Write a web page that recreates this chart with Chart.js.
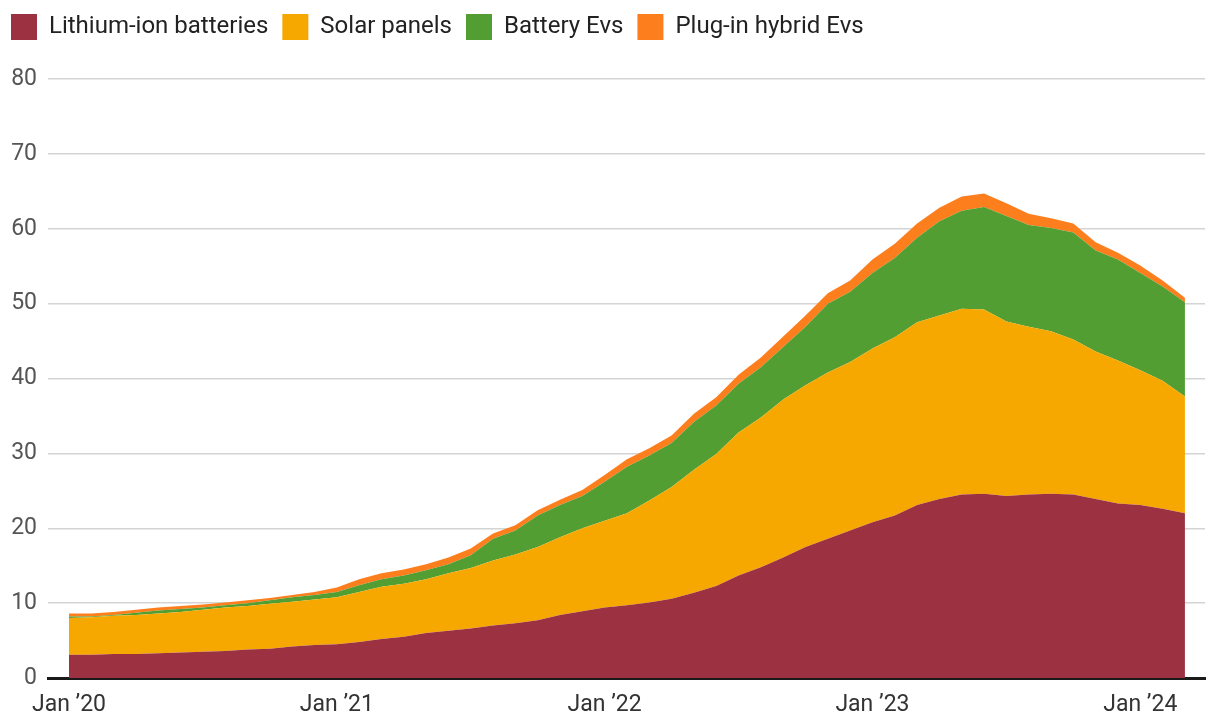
<!DOCTYPE html>
<html lang="en">
<head>
    <meta charset="UTF-8">
    <title>Clean tech exports</title>
    <script src="https://cdn.jsdelivr.net/npm/chart.js"></script>
    <style>
        html, body { margin: 0; padding: 0; background: #fff; }
        .chart-box { width: 1220px; height: 728px; position: relative; }
    </style>
</head>
<body>
    <div class="chart-box">
        <canvas id="areaChart"></canvas>
    </div>

    <script>
        // monthly, Jan 2020 - Mar 2024
        const months = [
            '2020-01','2020-02','2020-03','2020-04','2020-05','2020-06','2020-07','2020-08','2020-09','2020-10','2020-11','2020-12',
            '2021-01','2021-02','2021-03','2021-04','2021-05','2021-06','2021-07','2021-08','2021-09','2021-10','2021-11','2021-12',
            '2022-01','2022-02','2022-03','2022-04','2022-05','2022-06','2022-07','2022-08','2022-09','2022-10','2022-11','2022-12',
            '2023-01','2023-02','2023-03','2023-04','2023-05','2023-06','2023-07','2023-08','2023-09','2023-10','2023-11','2023-12',
            '2024-01','2024-02','2024-03'
        ];

        const lithiumIon = [
            3.1, 3.1, 3.2, 3.2, 3.3, 3.4, 3.5, 3.6, 3.8, 3.9, 4.2, 4.4,
            4.5, 4.8, 5.2, 5.5, 6.0, 6.3, 6.6, 7.0, 7.3, 7.7, 8.4, 8.9,
            9.4, 9.7, 10.1, 10.6, 11.4, 12.3, 13.7, 14.8, 16.1, 17.5, 18.6, 19.7,
            20.8, 21.7, 23.1, 23.9, 24.5, 24.6, 24.3, 24.5, 24.6, 24.5, 23.9, 23.3,
            23.1, 22.6, 22.0
        ];
        const solarPanels = [
            4.9, 5.0, 5.1, 5.2, 5.3, 5.4, 5.6, 5.8, 5.8, 6.0, 6.0, 6.1,
            6.3, 6.7, 7.0, 7.1, 7.2, 7.7, 8.1, 8.7, 9.2, 9.8, 10.4, 11.1,
            11.6, 12.3, 13.6, 14.9, 16.4, 17.6, 19.1, 20.0, 21.1, 21.6, 22.2, 22.5,
            23.2, 23.8, 24.4, 24.5, 24.8, 24.6, 23.3, 22.4, 21.7, 20.7, 19.7, 19.1,
            18.0, 17.1, 15.6
        ];
        const batteryEvs = [
            0.2, 0.1, 0.1, 0.3, 0.4, 0.4, 0.3, 0.3, 0.4, 0.5, 0.6, 0.6,
            0.7, 0.9, 1.0, 1.1, 1.2, 1.2, 1.7, 2.9, 3.2, 4.2, 4.3, 4.3,
            5.2, 6.2, 6.0, 5.9, 6.4, 6.5, 6.5, 6.7, 7.0, 7.8, 9.2, 9.4,
            10.1, 10.6, 11.3, 12.6, 13.1, 13.7, 14.1, 13.6, 13.8, 14.3, 13.5, 13.5,
            13.0, 12.6, 12.6
        ];
        const pluginHybridEvs = [
            0.4, 0.4, 0.4, 0.4, 0.4, 0.4, 0.4, 0.4, 0.4, 0.3, 0.3, 0.4,
            0.6, 0.8, 0.8, 0.8, 0.8, 0.9, 0.9, 0.7, 0.7, 0.7, 0.7, 0.8,
            0.9, 1.0, 1.0, 1.0, 1.1, 1.1, 1.2, 1.3, 1.4, 1.5, 1.4, 1.5,
            1.8, 1.9, 1.9, 1.8, 1.9, 1.8, 1.7, 1.5, 1.3, 1.2, 1.1, 0.9,
            1.0, 0.8, 0.6
        ];

        const xTickMonths = ['2020-01', '2021-01', '2022-01', '2023-01', '2024-01'];
        const xTickLabels = ['Jan \u201920', 'Jan \u201921', 'Jan \u201922', 'Jan \u201923', 'Jan \u201924'];
        const yTicks = [0, 10, 20, 30, 40, 50, 60, 70, 80];

        const toPoints = values => values.map((v, i) => ({ x: i, y: v }));
        const xTickPositions = xTickMonths.map(m => months.indexOf(m));

        const series = [
            { label: 'Lithium-ion batteries', data: lithiumIon, color: '#9c3241' },
            { label: 'Solar panels', data: solarPanels, color: '#f7a800' },
            { label: 'Battery Evs', data: batteryEvs, color: '#529e32' },
            { label: 'Plug-in hybrid Evs', data: pluginHybridEvs, color: '#fd7e1d' }
        ];

        // extra room between legend and plot
        const legendGap = {
            id: 'legendGap',
            beforeInit(chart) {
                const fit = chart.legend.fit;
                chart.legend.fit = function () {
                    fit.bind(chart.legend)();
                    this.height += 29;
                };
            }
        };

        const ctx = document.getElementById('areaChart').getContext('2d');
        new Chart(ctx, {
            type: 'line',
            data: {
                datasets: series.map((s, i) => ({
                    label: s.label,
                    data: toPoints(s.data),
                    backgroundColor: s.color,
                    borderColor: s.color,
                    borderWidth: 0,
                    pointRadius: 0,
                    tension: 0,
                    fill: i === 0 ? 'origin' : '-1'
                }))
            },
            options: {
                responsive: true,
                maintainAspectRatio: false,
                animation: false,
                layout: { padding: { top: 0, right: 15, bottom: 0, left: -3 } },
                plugins: {
                    legend: {
                        position: 'top',
                        align: 'start',
                        labels: {
                            boxWidth: 26,
                            boxHeight: 26,
                            padding: 14,
                            color: '#222',
                            font: { family: 'Roboto', size: 24 }
                        }
                    },
                    tooltip: { enabled: false }
                },
                scales: {
                    x: {
                        type: 'linear',
                        min: -0.94,
                        max: 50.9,
                        grid: { display: false, drawTicks: false },
                        border: { display: true, color: '#1a1a1a', width: 3 },
                        afterBuildTicks: scale => {
                            scale.ticks = xTickPositions.map(v => ({ value: v }));
                        },
                        afterFit: scale => { scale.height = 50; },
                        ticks: {
                            padding: 13,
                            maxRotation: 0,
                            autoSkip: false,
                            color: '#333',
                            font: { family: 'Roboto', size: 23 },
                            callback: value => xTickLabels[xTickPositions.indexOf(value)]
                        }
                    },
                    y: {
                        stacked: true,
                        min: 0,
                        max: 80,
                        grid: { color: '#d4d4d4', lineWidth: 1.5, drawTicks: false },
                        border: { display: false },
                        afterBuildTicks: scale => {
                            scale.ticks = yTicks.map(v => ({ value: v }));
                        },
                        afterFit: scale => { scale.width = 51; },
                        ticks: {
                            padding: 11,
                            color: '#555',
                            font: { family: 'Roboto', size: 23 }
                        }
                    }
                }
            },
            plugins: [legendGap]
        });
    </script>
</body>
</html>
